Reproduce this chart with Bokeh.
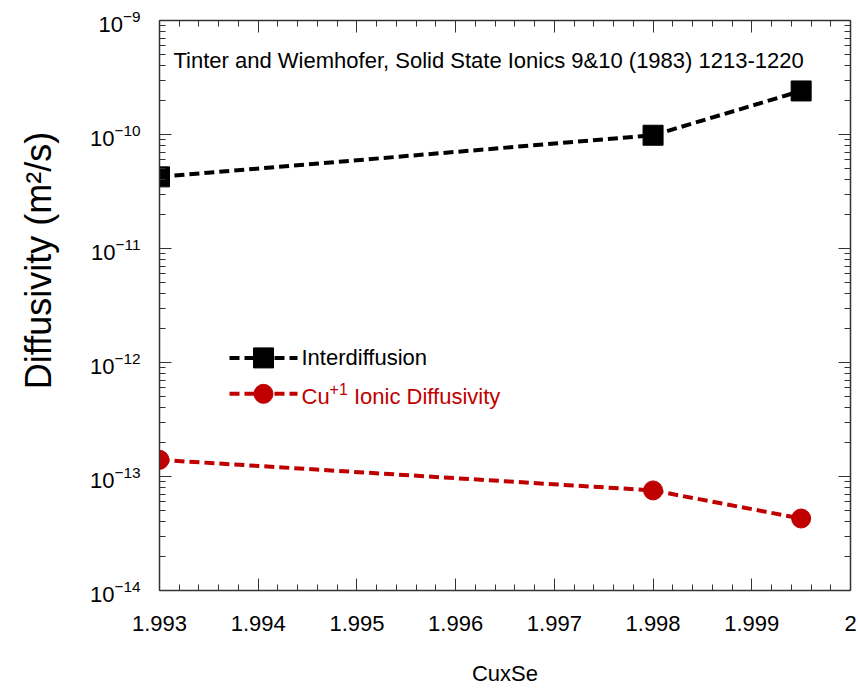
import math

from bokeh.embed import file_html
from bokeh.models import FixedTicker, Label, LinearAxis, LogAxis, Range1d
from bokeh.plotting import figure
from bokeh.resources import INLINE

# --- data -------------------------------------------------------------
composition = [1.993, 1.998, 1.9995]            # x in CuxSe
interdiffusion = [4.25e-11, 9.85e-11, 2.41e-10]  # m^2/s
cu_ionic = [1.40e-13, 7.55e-14, 4.28e-14]        # m^2/s

x_ticks = [1.993, 1.994, 1.995, 1.996, 1.997, 1.998, 1.999, 2.0]
x_tick_labels = ["1.993", "1.994", "1.995", "1.996", "1.997", "1.998", "1.999", "2"]
y_decades = [-14, -13, -12, -11, -10, -9]

series_names = ["Interdiffusion", "Cu", "+1", "Ionic Diffusivity"]
title_text = "Tinter and Wiemhofer, Solid State Ionics 9&10 (1983) 1213-1220"
x_title = "CuxSe"
y_title = "Diffusivity (m\u00b2/s)"

# --- layout / style ---------------------------------------------------
X_MIN, X_MAX = 1.993, 2.0
Y_MIN, Y_MAX = 1e-14, 1e-9
W, H = 858, 688
LEFT, RIGHT, TOP, BOTTOM = 159, 850, 20, 591   # plot frame in page pixels
FONT = "Liberation Sans"
RED = "#c00000"
AXIS_COLOR = "#333333"
DASH = "10 5"
BASELINE_SHIFT = 0.39  # em; alphabetic baseline correction for Label text
Y_TITLE_LIFT = 9       # non-breaking spaces that raise the centred y title

p = figure(
    width=W, height=H,
    x_range=Range1d(X_MIN, X_MAX), y_range=Range1d(Y_MIN, Y_MAX),
    y_axis_type="log",
    output_backend="svg", toolbar_location=None,
    min_border_left=LEFT, min_border_right=W - RIGHT,
    min_border_top=TOP, min_border_bottom=H - BOTTOM,
)
p.grid.visible = False
p.outline_line_color = None
p.background_fill_color = "white"
p.border_fill_color = "white"

x_minor = [round(X_MIN + 0.0002 * i, 4) for i in range(36)]
x_ticker = FixedTicker(ticks=x_ticks, minor_ticks=x_minor)
y_ticker = FixedTicker(
    ticks=[10.0 ** e for e in y_decades],
    minor_ticks=[k * 10.0 ** e for e in y_decades[:-1] for k in range(2, 10)],
)


def style_axis(ax):
    ax.axis_line_color = AXIS_COLOR
    ax.axis_line_width = 1.5
    ax.major_tick_line_color = AXIS_COLOR
    ax.minor_tick_line_color = AXIS_COLOR
    ax.major_tick_line_width = 1
    ax.minor_tick_line_width = 1
    ax.major_tick_in = 12
    ax.major_tick_out = 0
    ax.minor_tick_in = 6
    ax.minor_tick_out = 0


def hide_labels(ax):
    ax.major_label_text_color = None
    ax.major_label_text_font_size = "1px"
    ax.major_label_standoff = 0


# bottom axis: decimal ticks and the composition title
xa = p.xaxis[0]
xa.ticker = x_ticker
xa.major_label_overrides = dict(zip(x_ticks, x_tick_labels))
xa.major_label_text_font = FONT
xa.major_label_text_font_size = "22px"
xa.major_label_text_color = "black"
xa.major_label_standoff = 25
xa.axis_label = x_title
xa.axis_label_text_font = FONT
xa.axis_label_text_font_size = "22px"
xa.axis_label_text_font_style = "normal"
xa.axis_label_text_color = "black"
xa.axis_label_standoff = 27
style_axis(xa)

# left axis: 10^n labels from the log formatter, plus the quantity title
ya = p.yaxis[0]
ya.ticker = y_ticker
ya.major_label_text_font = FONT
ya.major_label_text_font_size = "22px"
ya.major_label_text_color = "black"
ya.major_label_standoff = 19
ya.axis_label = "\u00a0" * Y_TITLE_LIFT + y_title
ya.axis_label_text_font = FONT
ya.axis_label_text_font_size = "36px"
ya.axis_label_text_font_style = "normal"
ya.axis_label_text_color = "black"
ya.axis_label_standoff = 28
style_axis(ya)

top_axis = LinearAxis(ticker=x_ticker)
hide_labels(top_axis)
style_axis(top_axis)
p.add_layout(top_axis, "above")

right_axis = LogAxis(ticker=y_ticker)
hide_labels(right_axis)
style_axis(right_axis)
p.add_layout(right_axis, "right")


def to_data(sx, sy):
    """Page pixel -> data coordinates (linear x, log y)."""
    x = X_MIN + (sx - LEFT) / (RIGHT - LEFT) * (X_MAX - X_MIN)
    ly = math.log10(Y_MIN) + (BOTTOM - sy) / (BOTTOM - TOP) * (math.log10(Y_MAX) - math.log10(Y_MIN))
    return x, 10 ** ly


def text_at(text, sx, sy, size, color="black"):
    """Left-aligned label whose alphabetic baseline sits at page pixel row sy."""
    p.add_layout(Label(
        x=X_MIN, y=Y_MIN, x_offset=sx - LEFT, y_offset=BOTTOM - (sy - BASELINE_SHIFT * size),
        text=text, text_font=FONT, text_font_size=f"{size}px",
        text_color=color, text_align="left", text_baseline="alphabetic",
    ))


def text_width(s, size):
    widths = {"-": 0.333, "+": 0.584}
    return sum(widths.get(c, 0.556) for c in s) * size


# --- series -----------------------------------------------------------
p.line(composition, interdiffusion, line_color="black", line_width=4, line_dash=DASH)
p.scatter(composition, interdiffusion, marker="square", size=20, fill_color="black", line_color="black")
p.line(composition, cu_ionic, line_color=RED, line_width=4, line_dash=DASH)
p.scatter(composition, cu_ionic, marker="circle", size=19, fill_color=RED, line_color=RED)

# --- source note inside the frame ----------------------------------------
text_at(title_text, 173, 70, 22)

# --- legend ------------------------------------------------------------
rows = [358, 394]
for sy, color, marker, size in [(rows[0], "black", "square", 20), (rows[1], RED, "circle", 19)]:
    xa0, ya0 = to_data(229, sy)
    xa1, _ = to_data(297, sy)
    xm, _ = to_data(263, sy)
    p.line([xa0, xa1], [ya0, ya0], line_color=color, line_width=4, line_dash=DASH)
    p.scatter([xm], [ya0], marker=marker, size=size, fill_color=color, line_color=color)

text_at(series_names[0], 301, rows[0] + 9, 22)
text_at(series_names[1], 301, rows[1] + 12, 22, color=RED)
cu_w = (0.722 + 0.556) * 22
text_at(series_names[2], 301 + cu_w, rows[1] + 2, 16, color=RED)
text_at(series_names[3], 301 + cu_w + text_width("+1", 16) + 0.278 * 22, rows[1] + 12, 22, color=RED)

open("out.html", "w").write(file_html(p, INLINE))
